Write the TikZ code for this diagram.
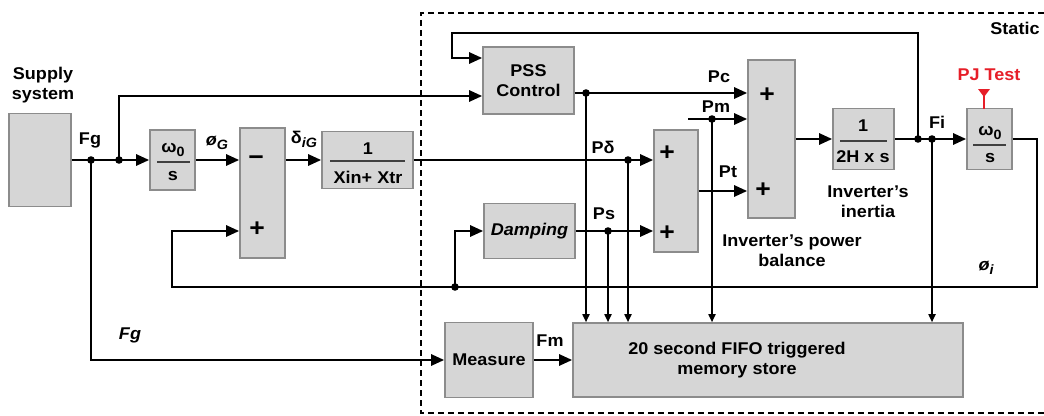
\documentclass[tikz,border=0pt]{standalone}
\usepackage{fontspec}
\setmainfont{Liberation Sans}[FakeStretch=1.06]
\usetikzlibrary{arrows.meta,calc}
\definecolor{boxfill}{RGB}{214,214,214}
\definecolor{boxline}{RGB}{140,140,140}
\definecolor{pjred}{RGB}{230,30,40}
\newcommand{\mysub}[1]{\raisebox{-4pt}{\fontsize{13.5}{13.5}\selectfont #1}}
\begin{document}
\begin{tikzpicture}[x=1pt,y=-1pt,
  font=\fontsize{17}{20}\selectfont\bfseries,
  blk/.style={draw=boxline, fill=boxfill, line width=1.6pt, inner sep=0pt},
  main/.style={line width=2.6pt, -{Triangle[length=13pt,width=11pt]}},
  tap/.style={line width=1.7pt, -{Triangle[length=8pt,width=7pt]}},
  lbl/.style={inner sep=0pt},
  sgn/.style={inner sep=0pt, font=\fontsize{25}{25}\selectfont\bfseries},
  frule/.style={line width=1.1pt, black!75}]
\useasboundingbox (0,0) rectangle (1044,415);
% dashed frame
\draw[line width=1.8pt, dash pattern=on 6pt off 4pt] (1044,13) -- (421,13) -- (421,413) -- (1044,413);
\node[lbl] (static) at (1015,28) {Static};
% blocks
\node[blk, minimum width=62pt, minimum height=93pt] (supply) at (40,160) {};
\node[lbl, align=center] (supplytxt) at (43,85) {Supply\\system};
\node[blk, minimum width=45pt, minimum height=60pt] (om1) at (172.5,160) {};
\node[blk, minimum width=45pt, minimum height=130pt] (sum1) at (262.5,193) {};
\node[blk, minimum width=91pt, minimum height=57pt] (xbox) at (367.5,160) {};
\node[blk, minimum width=91pt, minimum height=67pt, align=center] (pss) at (528.5,80.5) {PSS\\Control};
\node[blk, minimum width=91pt, minimum height=55pt] (damp) at (529.5,231) {\textit{Damping}};
\node[blk, minimum width=44pt, minimum height=122pt] (sum2) at (676,191) {};
\node[blk, minimum width=47pt, minimum height=158pt] (sum3) at (771.5,139) {};
\node[blk, minimum width=61pt, minimum height=61pt] (inert) at (863.5,139) {};
\node[blk, minimum width=45pt, minimum height=61pt] (om2) at (989.5,139) {};
\node[blk, minimum width=88pt, minimum height=75pt] (meas) at (489,360) {Measure};
\node[blk, minimum width=390pt, minimum height=74pt] (fifo) at (768,360) {};
\node[lbl, align=center] (fifotxt) at (737,360) {20 second FIFO triggered\\memory store};
% fractions
\node[lbl] (om1n) at (173,150) {ω\mysub{0}};
\draw[frule] (157,162) -- (190,162);
\node[lbl] (om1d) at (173,176) {s};
\node[lbl] (xn) at (368,149) {1};
\draw[frule] (330,161) -- (405,161);
\node[lbl] (xd) at (368,177) {Xin+ Xtr};
\node[lbl] (inn) at (863,126) {1};
\draw[frule] (840,141) -- (887,141);
\node[lbl] (ind) at (863,157) {2H x s};
\node[lbl] (om2n) at (990,133) {ω\mysub{0}};
\draw[frule] (973,145) -- (1006,145);
\node[lbl] (om2d) at (990,158) {s};
% signs
\node[sgn] (s1a) at (256,161) {−};
\node[sgn] (s1b) at (257,229) {+};
\node[sgn] (s2a) at (667,153) {+};
\node[sgn] (s2b) at (667,233) {+};
\node[sgn] (s3a) at (767,95) {+};
\node[sgn] (s3b) at (763,190) {+};
% junction points
\coordinate (ja) at (91,160);
\coordinate (jb) at (119,160);
\coordinate (pssin1) at ([yshift=22.5pt]pss.west);
\coordinate (pssin2) at ([yshift=-15.5pt]pss.west);
\coordinate (pssout) at ([yshift=-12.5pt]pss.east);
\coordinate (jp) at (586,93);
\coordinate (jd) at (628,160);
\coordinate (js) at (608,231);
\coordinate (pm0) at (688,119);
\coordinate (jm) at (712,119);
\coordinate (jf1) at (918,139);
\coordinate (jf2) at (932,139);
\coordinate (fbl) at (452,33);
\coordinate (lr) at (1037,287);
\coordinate (ll) at (172,287);
\coordinate (jl) at (455,287);
% connectors
\draw[main] (supply.east) -- (om1.west);
\draw[main] (jb) |- (pssin2);
\draw[main] (ja) |- (meas.west);
\draw[main] (om1.east) -- (sum1.west |- om1.east);
\draw[main] (sum1.east |- xbox.west) -- (xbox.west);
\draw[main] (xbox.east) -- (sum2.west |- xbox.east);
\draw[main] (damp.east) -- (sum2.west |- damp.east);
\draw[main] (pssout) -- (sum3.west |- pssout);
\draw[main] (pm0) -- (sum3.west |- pm0);
\draw[main] (sum2.east) -- (sum3.west |- sum2.east);
\draw[main] (sum3.east) -- (inert.west);
\draw[main] (inert.east) -- (om2.west);
\draw[main] (jf1) |- (fbl) |- (pssin1);
\draw[main] (om2.east) -| (lr) -- (ll) |- (sum1.west |- damp.west);
\draw[main] (jl) |- (damp.west);
\draw[main] (meas.east) -- (fifo.west);
\draw[tap] (jp) -- (jp |- fifo.north);
\draw[tap] (js) -- (js |- fifo.north);
\draw[tap] (jd) -- (jd |- fifo.north);
\draw[tap] (jm) -- (jm |- fifo.north);
\draw[tap] (jf2) -- (jf2 |- fifo.north);
\foreach \c in {ja,jb,jp,jd,js,jm,jf1,jf2,jl} \fill (\c) circle (3.8);
% PJ test marker
\node[lbl, text=pjred] (pj) at (989,75) {PJ Test};
\fill[pjred] (978,89) -- (990,89) -- (984,97) -- cycle;
\draw[pjred, line width=2.4pt] (984,95) -- (984,108.5);
% labels
\node[lbl] (lfg) at (90,140) {Fg};
\node[lbl] (lfg2) at (130,335) {\textit{Fg}};
\node[lbl] (lphig) at (217,143) {\textit{ø\mysub{G}}};
\node[lbl] (ldel) at (304,139) {δ\mysub{\textit{iG}}};
\node[lbl] (lpd) at (603,147) {Pδ};
\node[lbl] (lps) at (604,214) {Ps};
\node[lbl] (lpc) at (719,77) {Pc};
\node[lbl] (lpm) at (716,107) {Pm};
\node[lbl] (lpt) at (728,172) {Pt};
\node[lbl] (lfi) at (937,122) {Fi};
\node[lbl] (lfm) at (550,341) {Fm};
\node[lbl] (lphii) at (986,268) {\textit{ø\mysub{i}}};
\node[lbl, align=center] (linert) at (868,202) {Inverter's\\inertia};
\node[lbl, align=center] (lbal) at (792,251) {Inverter's power\\balance};
\end{tikzpicture}
\end{document}
